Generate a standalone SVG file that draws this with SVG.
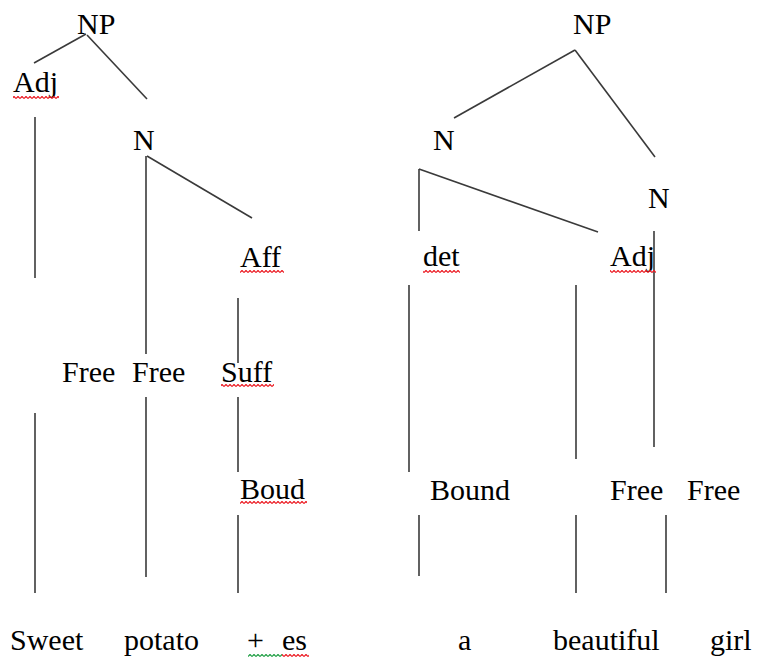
<svg xmlns="http://www.w3.org/2000/svg" width="757" height="660" viewBox="0 0 757 660" font-family="Liberation Serif, Times New Roman, serif">
  <style>
    text { font-family: "Liberation Serif", "Times New Roman", Times, serif; font-size: 30px; fill: #000; }
    .edge { stroke: #3a3a3a; stroke-width: 1.6; fill: none; }
  </style>
  <defs>
    <!-- spell-check style squiggles -->
    <pattern id="sq-red" width="4" height="3" patternUnits="userSpaceOnUse">
      <path d="M0 2.6 L2 0.4 L4 2.6" stroke="#ec1c24" stroke-width="1.2" fill="none"/>
    </pattern>
    <pattern id="sq-green" width="4" height="3" patternUnits="userSpaceOnUse">
      <path d="M0 2.6 L2 0.4 L4 2.6" stroke="#22a046" stroke-width="1.2" fill="none"/>
    </pattern>
  </defs>
  <rect width="757" height="660" fill="#fff"/>

  <!-- connectors -->
  <g id="connectors" class="edge">
    <!-- left tree: Sweet potato + es -->
    <line x1="86" y1="34" x2="34" y2="63"/>
    <line x1="87" y1="35" x2="147" y2="99"/>
    <line x1="35" y1="117" x2="35" y2="278"/>
    <line x1="35" y1="413" x2="35" y2="593"/>
    <line x1="146" y1="156" x2="146" y2="354"/>
    <line x1="146" y1="397" x2="146" y2="577"/>
    <line x1="147" y1="156" x2="252" y2="218"/>
    <line x1="238" y1="298" x2="238" y2="363"/>
    <line x1="238" y1="397" x2="238" y2="472"/>
    <line x1="238" y1="515" x2="238" y2="593"/>
    <!-- right tree: a beautiful girl -->
    <line x1="575" y1="50" x2="454" y2="118"/>
    <line x1="575" y1="50" x2="655" y2="157"/>
    <line x1="419" y1="169" x2="419" y2="231"/>
    <line x1="419" y1="169" x2="598" y2="232"/>
    <line x1="409" y1="285" x2="409" y2="472"/>
    <line x1="419" y1="515" x2="419" y2="576"/>
    <line x1="654" y1="231" x2="654" y2="447"/>
    <line x1="576" y1="285" x2="576" y2="459"/>
    <line x1="576" y1="515" x2="576" y2="593"/>
    <line x1="666" y1="515" x2="666" y2="593"/>
  </g>

  <!-- left tree nodes -->
  <g id="np-left"><text x="77" y="34">NP</text></g>
  <g id="adj-left"><text x="13" y="92">Adj</text><rect x="13" y="96" width="46" height="3" fill="url(#sq-red)"/></g>
  <g id="n-left"><text x="133" y="150">N</text></g>
  <g id="aff"><text x="240" y="267">Aff</text><rect x="240" y="270" width="44" height="3" fill="url(#sq-red)"/></g>
  <g id="free-sweet"><text x="62" y="382">Free</text></g>
  <g id="free-potato"><text x="132" y="382">Free</text></g>
  <g id="suff"><text x="221" y="382">Suff</text><rect x="221" y="384" width="53" height="3" fill="url(#sq-red)"/></g>
  <g id="boud"><text x="240" y="499">Boud</text><rect x="240" y="501" width="67" height="3" fill="url(#sq-red)"/></g>
  <g id="w-sweet"><text x="10" y="650">Sweet</text></g>
  <g id="w-potato"><text x="124" y="650">potato</text></g>
  <g id="w-es"><text x="247" y="650">+ <tspan x="282">es</tspan></text>
    <rect x="248" y="654" width="34" height="3" fill="url(#sq-green)"/>
    <rect x="282" y="654" width="27" height="3" fill="url(#sq-red)"/></g>

  <!-- right tree nodes -->
  <g id="np-right"><text x="573" y="34">NP</text></g>
  <g id="n-right-a"><text x="433" y="150">N</text></g>
  <g id="n-right-b"><text x="648" y="208">N</text></g>
  <g id="det"><text x="423" y="266">det</text><rect x="423" y="270" width="37" height="3" fill="url(#sq-red)"/></g>
  <g id="adj-right"><text x="610" y="266">Adj</text><rect x="610" y="270" width="46" height="3" fill="url(#sq-red)"/></g>
  <g id="bound"><text x="430" y="500">Bound</text></g>
  <g id="free-beautiful"><text x="610" y="500">Free</text></g>
  <g id="free-girl"><text x="687" y="500">Free</text></g>
  <g id="w-a"><text x="458" y="650">a</text></g>
  <g id="w-beautiful"><text x="553" y="650">beautiful</text></g>
  <g id="w-girl"><text x="710" y="650">girl</text></g>
</svg>
